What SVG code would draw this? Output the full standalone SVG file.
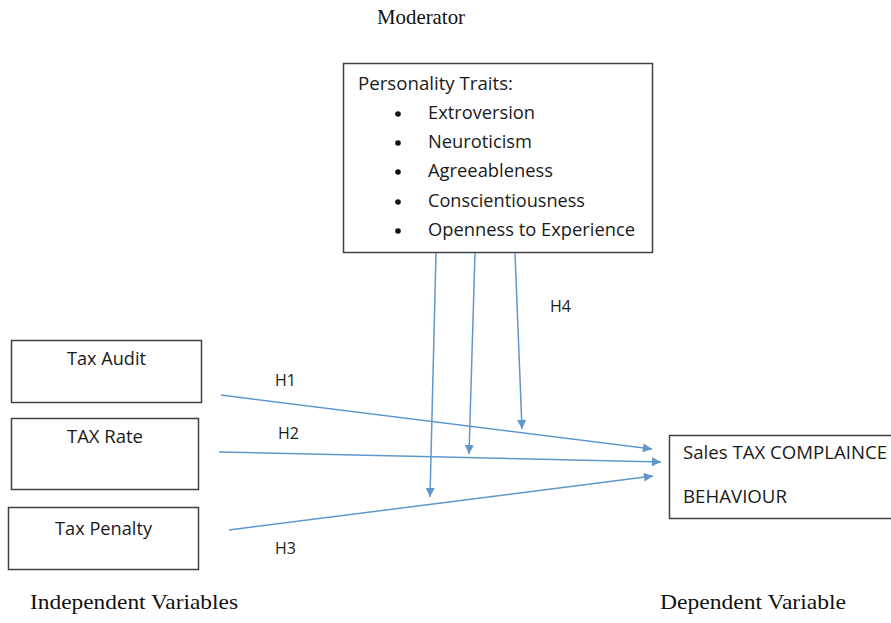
<svg xmlns="http://www.w3.org/2000/svg" width="891" height="623" viewBox="0 0 891 623">
<style>
.box{fill:#fff;stroke:#404040;stroke-width:1.5}
.t{font-family:"Open Sans","Noto Sans",sans-serif;font-size:17.5px;fill:#1a1a1a}
.h{font-family:"Open Sans","Noto Sans",sans-serif;font-size:16px;fill:#1a1a1a}
.s{font-family:"Liberation Serif","Times New Roman",serif;font-size:21px;fill:#111}
.c{stroke:#5f97cc;stroke-width:1.5;fill:none;marker-end:url(#ah)}
</style>
<defs>
<marker id="ah" viewBox="0 0 10 10" refX="10" refY="5" markerWidth="10" markerHeight="9" markerUnits="userSpaceOnUse" orient="auto">
<path d="M0,0 L10,5 L0,10 Z" fill="#5f97cc"/>
</marker>
</defs>
<rect width="891" height="623" fill="#fff"/>
<text class="s" x="377" y="24" textLength="88" lengthAdjust="spacingAndGlyphs">Moderator</text>
<text class="s" x="30" y="609" textLength="208" lengthAdjust="spacingAndGlyphs">Independent Variables</text>
<text class="s" x="660" y="609" textLength="186" lengthAdjust="spacingAndGlyphs">Dependent Variable</text>
<g id="moderator">
<rect class="box" x="343.5" y="63.5" width="309" height="189"/>
<text class="t" x="358" y="90" textLength="155" lengthAdjust="spacingAndGlyphs">Personality Traits:</text>
<g fill="#111">
<circle cx="398" cy="114" r="2.8"/><circle cx="398" cy="143" r="2.8"/><circle cx="398" cy="172" r="2.8"/><circle cx="398" cy="202" r="2.8"/><circle cx="398" cy="231" r="2.8"/>
</g>
<text class="t" x="428" y="119" textLength="107" lengthAdjust="spacingAndGlyphs">Extroversion</text>
<text class="t" x="428" y="148" textLength="104" lengthAdjust="spacingAndGlyphs">Neuroticism</text>
<text class="t" x="428" y="177" textLength="125" lengthAdjust="spacingAndGlyphs">Agreeableness</text>
<text class="t" x="428" y="207" textLength="157" lengthAdjust="spacingAndGlyphs">Conscientiousness</text>
<text class="t" x="428" y="236" textLength="207" lengthAdjust="spacingAndGlyphs">Openness to Experience</text>
</g>
<g id="tax-audit">
<rect class="box" x="11.5" y="340.5" width="190" height="62"/>
<text class="t" x="67" y="365" textLength="79" lengthAdjust="spacingAndGlyphs">Tax Audit</text>
</g>
<g id="tax-rate">
<rect class="box" x="11.5" y="418.5" width="187" height="71"/>
<text class="t" x="67" y="443" textLength="76" lengthAdjust="spacingAndGlyphs">TAX Rate</text>
</g>
<g id="tax-penalty">
<rect class="box" x="8.5" y="507.5" width="190" height="62"/>
<text class="t" x="55" y="535" textLength="97" lengthAdjust="spacingAndGlyphs">Tax Penalty</text>
</g>
<g id="compliance">
<rect class="box" x="669.5" y="435.5" width="230" height="83"/>
<text class="t" x="683" y="459" textLength="204" lengthAdjust="spacingAndGlyphs">Sales TAX COMPLAINCE</text>
<text class="t" x="683" y="503" textLength="104" lengthAdjust="spacingAndGlyphs">BEHAVIOUR</text>
</g>
<g id="connectors">
<line class="c" x1="221" y1="395" x2="652" y2="449"/>
<line class="c" x1="219" y1="452" x2="661" y2="462"/>
<line class="c" x1="229" y1="530" x2="653" y2="476"/>
<line class="c" x1="436" y1="253" x2="430" y2="497"/>
<line class="c" x1="475" y1="253" x2="469" y2="454"/>
<line class="c" x1="515" y1="253" x2="522" y2="429"/>
<text class="h" x="275" y="386">H1</text>
<text class="h" x="278" y="439">H2</text>
<text class="h" x="275" y="554">H3</text>
<text class="h" x="550" y="312">H4</text>
</g>
</svg>
